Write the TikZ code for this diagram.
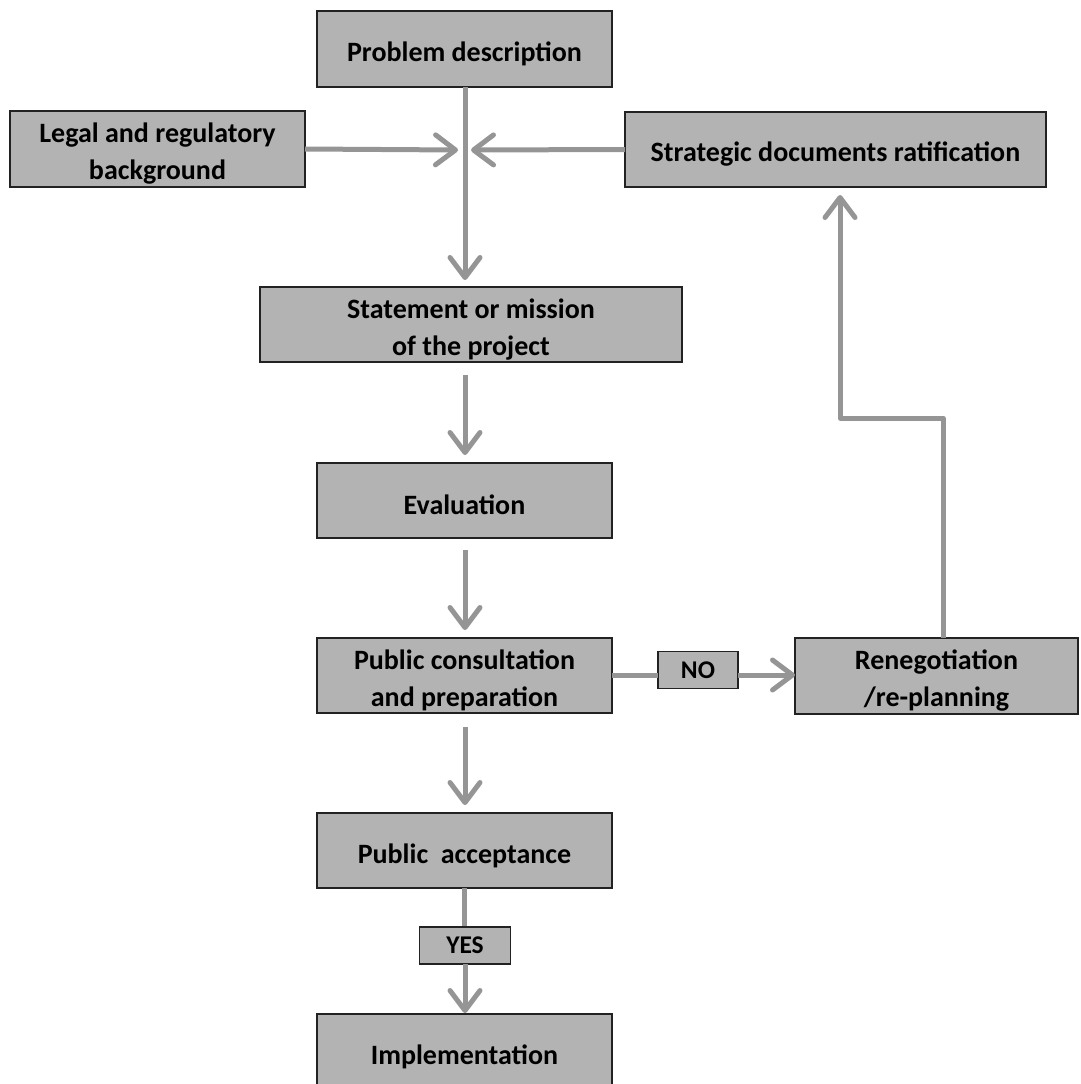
\documentclass[tikz,border=0pt]{standalone}
\usepackage{fontspec}
\setmainfont{Carlito}
\usetikzlibrary{arrows.meta}
\definecolor{boxfill}{HTML}{B3B3B3}
\definecolor{boxline}{HTML}{222222}
\definecolor{arrowgray}{HTML}{959595}
\tikzset{
  box/.style={draw=boxline, fill=boxfill, line width=1.6pt, inner sep=0pt, outer sep=0pt},
  txt/.style={inner sep=0pt, align=center, font=\bfseries\fontsize{28}{37}\selectfont},
  tag/.style={box, align=center, font=\bfseries\fontsize{25.5}{27}\selectfont},
  conn/.style={draw=arrowgray, line width=5pt},
  arr/.style={conn, -{Straight Barb[length=20pt, width=30pt, line cap=round, line join=round]}}
}
\begin{document}
\begin{tikzpicture}[x=1pt, y=-1pt]
\useasboundingbox (0,0) rectangle (1080,1084);
\clip (0,0) rectangle (1080,1084);
\node[box, minimum width=295pt, minimum height=76pt] (prob) at (464.5,49) {};
\node[box, minimum width=295pt, minimum height=76pt] (legal) at (157.5,149) {};
\node[box, minimum width=421pt, minimum height=75pt] (strat) at (835.5,149.5) {};
\node[box, minimum width=422pt, minimum height=75pt] (stmt) at (471,324.5) {};
\node[box, minimum width=295pt, minimum height=75pt] (eval) at (464.5,500.5) {};
\node[box, minimum width=295pt, minimum height=75pt] (cons) at (464.5,675.5) {};
\node[box, minimum width=283pt, minimum height=76pt] (reneg) at (936.5,676) {};
\node[box, minimum width=295pt, minimum height=75pt] (acc) at (464.5,850.5) {};
\node[box, minimum width=295pt, minimum height=76pt] (impl) at (464.5,1052) {};
% texts
\node[txt] (prob-t) at ([yshift=-5pt]prob.center) {Problem description};
\node[txt] (legal-t) at ([yshift=-5pt]legal.center) {Legal and regulatory\\background};
\node[txt] (strat-t) at ([yshift=-5pt]strat.center) {Strategic documents ratification};
\node[txt] (stmt-t) at ([yshift=-5pt]stmt.center) {Statement or mission\\of the project};
\node[txt] (eval-t) at ([yshift=-4pt]eval.center) {Evaluation};
\node[txt] (cons-t) at ([yshift=-5pt]cons.center) {Public consultation\\and preparation};
\node[txt] (reneg-t) at ([yshift=-5pt]reneg.center) {Renegotiation\\/re-planning};
\node[txt] (acc-t) at ([yshift=-5pt]acc.center) {Public~ acceptance};
\node[txt] (impl-t) at ([yshift=-5pt]impl.center) {Implementation};
% junction points
\coordinate (jl) at (458,150);
\coordinate (jr) at (471,150);
\coordinate (s1) at (465,280);
% connectors
\draw[arr] (prob.south -| s1) -- (s1);
\draw[arr] (legal.east) -- (jl);
\draw[arr] (strat.west) -- (jr);
\coordinate (a1) at (465,375); \coordinate (b1) at (465,455);
\draw[arr] (a1) -- (b1);
\coordinate (a2) at (465,550); \coordinate (b2) at (465,630);
\draw[arr] (a2) -- (b2);
\coordinate (a3) at (465,727); \coordinate (b3) at (465,805);
\draw[arr] (a3) -- (b3);
% YES
\draw[conn] (acc.south) -- ++(0,40) coordinate (yt);
\node[tag, minimum width=91pt, minimum height=37pt] (yes) at (465,945.5) {YES};
\coordinate (it) at (465,1013);
\draw[arr] (yes.south) -- (it);
% NO
\node[tag, minimum width=80pt, minimum height=37pt] (no) at (698,670) {NO};
\draw[conn] (cons.east |- 0,675) -- (no.west |- 0,675);
\draw[arr] (no.east |- 0,675) -- (reneg.west |- 0,675);
% renegotiation back to strategic
\coordinate (r1) at (943,418);
\coordinate (r2) at (840,418);
\coordinate (r3) at (840,195);
\draw[arr, line join=round] (reneg.north -| r1) -- (r1) -- (r2) -- (r3);
\end{tikzpicture}
\end{document}
